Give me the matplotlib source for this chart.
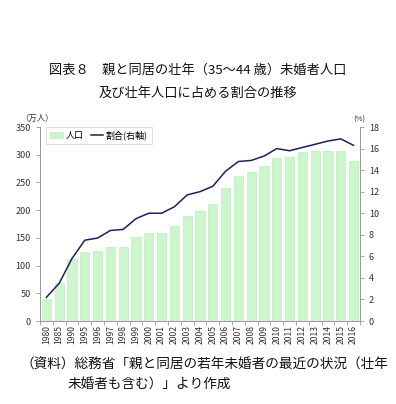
import matplotlib.pyplot as plt
import numpy as np

plt.rcParams['font.family'] = ['Noto Sans CJK JP', 'DejaVu Sans']

# data
years = ['1980', '1985', '1990', '1995', '1996', '1997', '1998', '1999',
         '2000', '2001', '2002', '2003', '2004', '2005', '2006', '2007',
         '2008', '2009', '2010', '2011', '2012', '2013', '2014', '2015', '2016']
population = [40, 68, 112, 124, 126, 133, 133, 151, 159, 158, 172, 190, 198,
              212, 240, 262, 268, 280, 294, 296, 305, 307, 307, 307, 288]
share = [2.2, 3.5, 5.8, 7.5, 7.7, 8.4, 8.5, 9.5, 10.0, 10.0, 10.6, 11.7, 12.0,
         12.5, 13.9, 14.8, 14.9, 15.3, 16.0, 15.8, 16.1, 16.4, 16.7, 16.9, 16.3]

x = np.arange(len(years))
grey = '#999999'
txt = '#333333'

fig = plt.figure(figsize=(3.96, 4.04), dpi=100)
ax = fig.add_axes([0.101, 0.2054, 0.808, 0.4802])
ax2 = ax.twinx()

ax.bar(x, population, width=0.72, color='#ccf7cc', edgecolor='#b8e8b8',
       linewidth=0.4, label='人口')
ax2.plot(x, share, color='#1f1f5c', linewidth=1.1, label='割合(右軸)')

ax.set_xlim(-0.5, len(years) - 0.5)
ax.set_ylim(0, 350)
ax.set_yticks(range(0, 351, 50))
ax2.set_ylim(0, 18)
ax2.set_yticks(range(0, 19, 2))
ax.set_xticks(x)
ax.set_xticklabels(years, rotation=90)
ax.set_xticks(np.arange(-0.5, len(years)), minor=True)

for a in (ax, ax2):
    a.spines['top'].set_visible(False)
    for s in ('left', 'right', 'bottom'):
        a.spines[s].set_color(grey)
        a.spines[s].set_linewidth(0.6)
    a.tick_params(labelsize=6.5, colors=grey, labelcolor=txt, width=0.6,
                  length=3)
ax.tick_params(axis='x', which='major', length=0, pad=3, labelsize=6.2)
ax.tick_params(axis='x', which='minor', length=3, color=grey, width=0.6)

# legend
h1, l1 = ax.get_legend_handles_labels()
h2, l2 = ax2.get_legend_handles_labels()
leg = ax2.legend(h1 + h2, l1 + l2, loc='upper left', bbox_to_anchor=(0.02, 1.0),
                 ncol=2, fontsize=6.5, frameon=True, fancybox=False,
                 handlelength=1.4, handleheight=0.7, columnspacing=0.8,
                 handletextpad=0.3, borderpad=0.4, borderaxespad=0.0)
leg.get_frame().set_edgecolor('#d0d0d0')
leg.get_frame().set_linewidth(0.6)

# unit labels
fig.text(0.052, 0.700, '（万人）', fontsize=6, color=txt)
fig.text(0.893, 0.700, '(%)', fontsize=5.5, color=txt)

# title
fig.text(0.5, 0.827, '図表８　親と同居の壮年（35～44 歳）未婚者人口',
         ha='center', va='center', fontsize=9.5, color='#111111')
fig.text(0.5, 0.770, '及び壮年人口に占める割合の推移',
         ha='center', va='center', fontsize=9.5, color='#111111')

# source note
fig.text(0.052, 0.097, '（資料）総務省「親と同居の若年未婚者の最近の状況（壮年',
         ha='left', va='center', fontsize=9.8, color='#111111')
fig.text(0.170, 0.047, '未婚者も含む）」より作成',
         ha='left', va='center', fontsize=9.8, color='#111111')

fig.savefig('out.png', dpi=100, facecolor='white')
